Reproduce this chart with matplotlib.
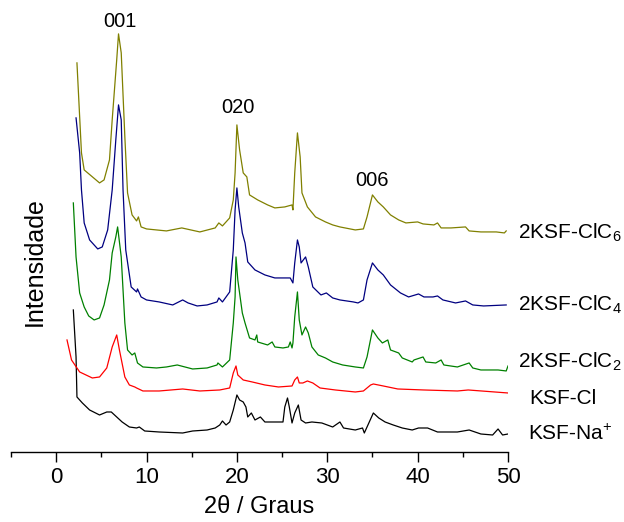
import matplotlib
matplotlib.use('Agg')
import matplotlib.pyplot as plt

plt.rcParams['font.family'] = ['Liberation Sans', 'DejaVu Sans']
plt.rcParams['mathtext.fontset'] = 'custom'
plt.rcParams['mathtext.rm'] = 'Liberation Sans'

# 2theta (graus) / intensidade (u.a., curvas ja deslocadas)
x_clc6 = [2.3, 2.8, 3.1, 4.8, 5.3, 5.9, 6.2, 6.7, 6.9, 7.2, 7.6, 7.9, 8.4, 8.9, 9.1, 9.4,
          10.0, 12.2, 13.9, 15.9, 17.6, 18.0, 18.4, 19.2, 19.6, 19.8, 20.0, 20.3, 20.7, 21.1,
          21.4, 22.3, 23.4, 24.2, 25.3, 26.1, 26.2, 26.4, 26.7, 27.0, 27.2, 27.8, 28.7, 29.8,
          30.6, 31.4, 33.1, 34.0, 34.4, 35.0, 35.6, 36.2, 37.0, 37.9, 38.7, 40.0, 40.6, 41.8,
          42.2, 42.6, 43.7, 45.3, 45.7, 47.0, 48.7, 49.6, 49.8]
y_clc6 = [389, 299, 282, 269, 272, 292, 332, 392, 418, 399, 315, 259, 237, 231, 235, 225,
          223, 221, 224, 220, 224, 229, 226, 234, 252, 279, 327, 302, 279, 275,
          257, 252, 247, 244, 245, 247, 242, 279, 319, 295, 259, 245, 235, 230,
          227, 225, 222, 223, 235, 257, 250, 245, 237, 232, 229, 230, 228, 227,
          229, 224, 224, 225, 221, 220, 220, 219, 221]

x_clc4 = [2.2, 2.6, 2.8, 3.1, 3.7, 4.6, 5.1, 5.7, 6.2, 6.6, 6.9, 7.2, 7.4, 7.7, 8.3, 8.9,
          9.0, 9.4, 10.0, 11.4, 12.9, 14.0, 14.6, 15.6, 16.7, 17.8, 18.0, 18.4, 19.2, 19.6,
          19.8, 20.0, 20.2, 20.6, 20.9, 21.2, 22.0, 23.1, 24.2, 25.3, 25.9, 26.2, 26.4, 26.7,
          26.9, 27.1, 27.6, 27.9, 28.4, 29.3, 29.9, 30.6, 31.4, 32.9, 33.4, 34.0, 34.4, 35.0,
          35.6, 36.2, 37.0, 38.1, 39.0, 40.1, 40.7, 41.7, 42.2, 42.8, 44.2, 45.3, 46.1, 47.3,
          49.8]
y_clc4 = [334, 299, 262, 229, 212, 203, 205, 222, 262, 312, 347, 332, 262, 202, 165, 160,
          163, 155, 152, 150, 147, 152, 149, 146, 147, 150, 154, 150, 160, 202,
          242, 264, 245, 219, 209, 190, 182, 177, 174, 174, 174, 169, 189, 212,
          205, 189, 195, 185, 165, 157, 159, 154, 152, 150, 149, 152, 172, 189,
          182, 177, 167, 159, 155, 158, 155, 155, 156, 152, 149, 151, 147, 146,
          147]

x_clc2 = [1.9, 2.2, 2.6, 3.1, 3.6, 4.2, 4.8, 5.3, 5.9, 6.2, 6.6, 6.8, 7.2, 7.6, 7.9, 8.4,
          8.7, 9.0, 9.6, 11.1, 12.2, 13.4, 15.1, 16.7, 17.8, 17.9, 18.4, 19.2, 19.6, 19.8,
          19.9, 20.1, 20.6, 20.9, 21.4, 22.0, 22.2, 22.3, 23.4, 23.9, 24.2, 25.1, 25.7, 25.9,
          26.1, 26.2, 26.4, 26.7, 26.9, 27.2, 27.6, 27.9, 28.3, 29.0, 29.8, 30.6, 31.7, 33.1,
          34.0, 34.4, 35.0, 35.6, 36.1, 36.7, 37.0, 37.9, 38.3, 39.4, 39.6, 40.6, 40.9, 42.0,
          42.6, 42.9, 44.4, 45.7, 46.1, 47.0, 48.9, 49.8, 50.0]
y_clc2 = [249, 195, 159, 145, 136, 132, 134, 147, 172, 199, 215, 225, 195, 129, 102, 97,
          99, 89, 85, 84, 85, 87, 83, 84, 87, 89, 85, 92, 129, 155,
          195, 172, 139, 129, 114, 112, 117, 110, 107, 110, 105, 104, 105, 110,
          104, 109, 135, 160, 132, 117, 125, 119, 105, 97, 94, 90, 87, 85,
          84, 95, 122, 114, 109, 112, 102, 99, 94, 90, 92, 95, 90, 89,
          92, 87, 85, 89, 84, 82, 82, 81, 86]

x_kcl = [1.2, 1.7, 2.6, 3.3, 4.0, 4.8, 5.6, 6.2, 6.7, 7.0, 7.6, 8.1, 8.7, 8.9, 9.6, 11.4,
         14.0, 15.9, 18.1, 19.2, 19.6, 19.9, 20.1, 20.7, 21.7, 23.1, 24.6, 26.1, 26.4, 26.7,
         26.9, 27.3, 27.8, 28.4, 29.2, 30.9, 33.1, 34.0, 34.8, 35.1, 36.2, 37.8, 40.7, 44.4,
         45.6, 50.0]
y_kcl = [112, 92, 80, 77, 74, 75, 84, 105, 117, 102, 75, 67, 65, 64, 61, 61,
         63, 61, 62, 64, 79, 86, 77, 72, 70, 67, 65, 66, 72, 75,
         69, 69, 71, 69, 64, 62, 60, 61, 67, 68, 66, 63, 62, 61,
         62, 59]

x_kna = [1.9, 2.2, 2.3, 2.9, 3.7, 4.8, 5.6, 6.1, 6.7, 7.3, 8.1, 8.9, 9.2, 9.8, 11.4, 14.0,
         15.1, 16.7, 17.6, 18.1, 18.4, 18.8, 19.2, 19.6, 20.0, 20.3, 20.7, 21.0, 21.2, 21.6,
         22.0, 22.6, 23.1, 23.9, 24.6, 25.1, 25.3, 25.6, 25.8, 26.1, 26.4, 26.8, 27.1, 27.6,
         28.3, 29.4, 30.6, 31.4, 31.8, 33.1, 33.9, 34.1, 34.6, 35.1, 35.7, 36.4, 37.3, 38.3,
         39.4, 40.1, 41.1, 42.2, 43.7, 44.4, 45.7, 47.0, 48.3, 48.9, 49.4, 50.0]
y_kna = [142, 95, 55, 49, 42, 37, 40, 40, 35, 30, 25, 24, 25, 21, 20, 19,
         21, 22, 24, 27, 31, 27, 30, 42, 57, 52, 50, 45, 35, 39,
         32, 35, 30, 30, 30, 30, 45, 54, 45, 29, 39, 47, 32, 29,
         30, 29, 25, 30, 24, 22, 24, 19, 29, 39, 34, 30, 27, 24,
         22, 24, 24, 20, 20, 20, 22, 18, 17, 23, 17, 18]

series = [
    (x_kna, y_kna, 'black'),
    (x_kcl, y_kcl, 'red'),
    (x_clc2, y_clc2, 'green'),
    (x_clc4, y_clc4, 'navy'),
    (x_clc6, y_clc6, 'olive'),
]

# rotulos das amostras, ao lado direito
sample_labels = ['KSF-Na$\\mathregular{^{+}}$', 'KSF-Cl', '2KSF-ClC$\\mathregular{_2}$',
                 '2KSF-ClC$\\mathregular{_4}$', '2KSF-ClC$\\mathregular{_6}$']
label_pos = [(52.2, 18), (52.3, 53), (51.1, 90), (51.1, 147), (51.1, 219)]

peak_labels = ['001', '020', '006']
peak_pos = [(7.1, 430), (20.1, 344), (35.0, 271)]

fig = plt.figure(figsize=(6.24, 5.22), dpi=100)
ax = fig.add_axes([0.0176, 0.1341, 0.7965, 0.847])

for xs, ys, c in series:
    ax.plot(xs, ys, color=c, lw=0.9)

for txt, (tx, ty) in zip(sample_labels, label_pos):
    ax.text(tx, ty, txt, fontsize=15, va='center', ha='left', clip_on=False)

for txt, (tx, ty) in zip(peak_labels, peak_pos):
    ax.text(tx, ty, txt, fontsize=14.5, va='center', ha='center')

ax.set_xlim(-5, 50)
ax.set_ylim(0, 442)
ax.set_xticks([0, 10, 20, 30, 40, 50])
ax.set_xticks([-5, 5, 15, 25, 35, 45], minor=True)
ax.tick_params(axis='x', which='major', direction='out', length=7, width=1, labelsize=16)
ax.tick_params(axis='x', which='minor', direction='out', length=3.5, width=1)
ax.set_yticks([])
for s in ['top', 'left', 'right']:
    ax.spines[s].set_visible(False)
ax.spines['bottom'].set_linewidth(1)
ax.set_xlabel('2\u03b8 / Graus', fontsize=17, labelpad=6)

fig.text(35 / 624, 1 - 262 / 522, 'Intensidade', rotation=90, fontsize=18,
         ha='center', va='center')

fig.savefig('out.png', dpi=100)
